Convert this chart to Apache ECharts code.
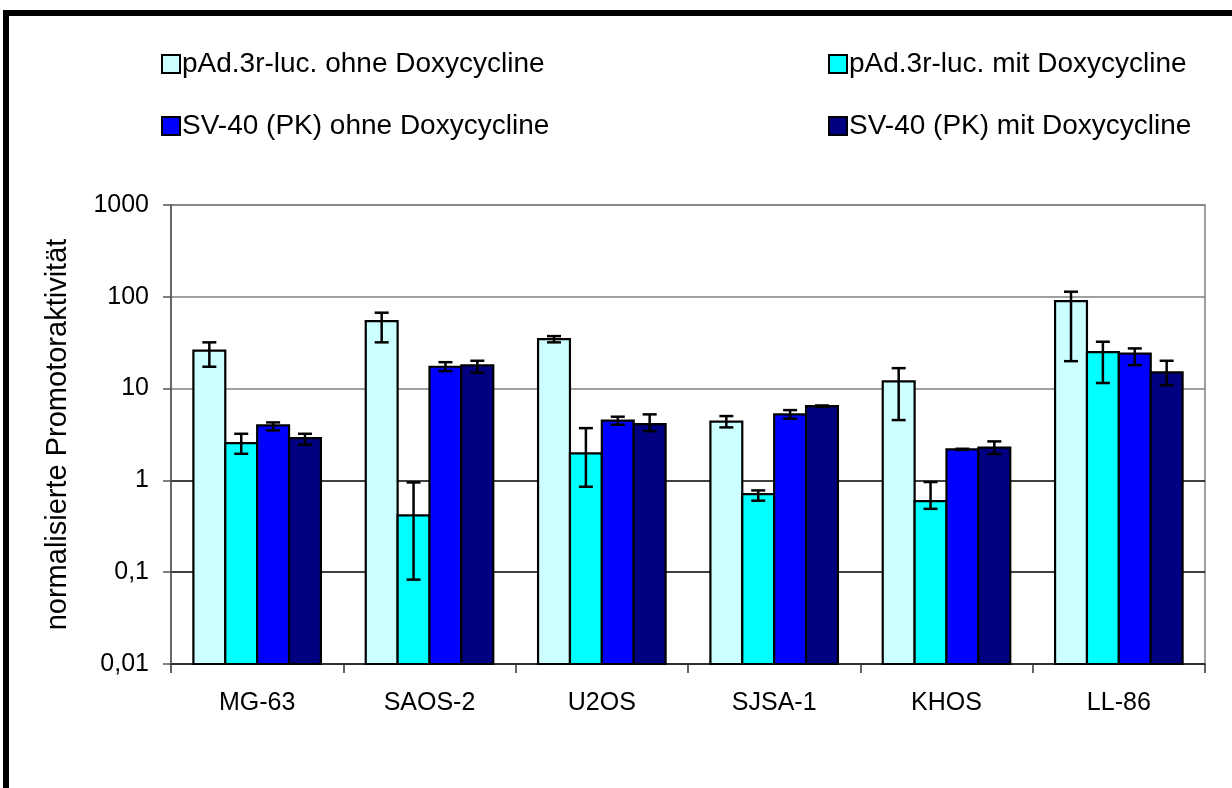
<!DOCTYPE html>
<html>
<head>
<meta charset="utf-8">
<script src="https://cdn.jsdelivr.net/npm/echarts@6/dist/echarts.min.js"></script>
<style>
html,body{margin:0;padding:0;background:#fff;}
#chart{width:1232px;height:788px;}
</style>
</head>
<body>
<div id="chart"></div>
<script>
const categories = ['MG-63', 'SAOS-2', 'U2OS', 'SJSA-1', 'KHOS', 'LL-86'];
const seriesNames = ['pAd.3r-luc. ohne Doxycycline', 'pAd.3r-luc. mit Doxycycline', 'SV-40 (PK) ohne Doxycycline', 'SV-40 (PK) mit Doxycycline'];
const seriesColors = ['#CCFFFF', '#00FFFF', '#0000FF', '#000080'];

const s1 = [25.9, 54.4, 34.6, 4.36, 12.0, 89.8];
const s1Low = [17.3, 31.9, 31.9, 3.78, 4.54, 19.9];
const s1High = [31.9, 67.1, 37.3, 5.02, 16.7, 113.6];

const s2 = [2.55, 0.416, 1.97, 0.71, 0.596, 25.0];
const s2Low = [1.95, 0.083, 0.853, 0.601, 0.49, 11.5];
const s2High = [3.22, 0.95, 3.71, 0.778, 0.96, 32.4];

const s3 = [3.97, 17.3, 4.47, 5.24, 2.18, 24.0];
const s3Low = [3.5, 15.5, 4.04, 4.7, 2.15, 18.0];
const s3High = [4.28, 19.4, 4.94, 5.83, 2.21, 27.4];

const s4 = [2.89, 17.9, 4.1, 6.45, 2.27, 15.0];
const s4Low = [2.45, 14.9, 3.44, 6.35, 1.94, 10.9];
const s4High = [3.22, 20.1, 5.24, 6.55, 2.66, 20.1];

const yTicks = [0.01, 0.1, 1, 10, 100, 1000];

const values = [s1, s2, s3, s4];
const lows = [s1Low, s2Low, s3Low, s4Low];
const highs = [s1High, s2High, s3High, s4High];

const FONT = 'Arial, "Liberation Sans", sans-serif';
const CAT_GAP = 0.26;

const chart = echarts.init(document.getElementById('chart'), null, {renderer: 'canvas'});

const series = values.map((vals, i) => ({
  name: seriesNames[i],
  type: 'custom',
  data: categories.map((c, k) => [k, vals[k], lows[i][k], highs[i][k]]),
  encode: {x: 0, y: [1, 2, 3]},
  itemStyle: {color: seriesColors[i], borderColor: '#000', borderWidth: 2},
  z: 3,
  renderItem: function (params, api) {
    const k = api.value(0);
    const top = api.coord([k, api.value(1)]);
    const base = api.coord([k, yTicks[0]]);
    const lo = api.coord([k, api.value(2)]);
    const hi = api.coord([k, api.value(3)]);
    const band = params.coordSys.width / categories.length;
    const barW = band * (1 - CAT_GAP) / 4;
    const cx = top[0] + (i - 1.5) * barW;
    const cap = 7;
    const st = {stroke: '#000', lineWidth: 2.5};
    return {
      type: 'group',
      children: [
        {type: 'rect', shape: {x: cx - barW / 2, y: top[1], width: barW, height: base[1] - top[1]},
         style: {fill: seriesColors[i], stroke: '#000', lineWidth: 2.2}},
        {type: 'line', shape: {x1: cx, y1: lo[1], x2: cx, y2: hi[1]}, style: st},
        {type: 'line', shape: {x1: cx - cap, y1: lo[1], x2: cx + cap, y2: lo[1]}, style: st},
        {type: 'line', shape: {x1: cx - cap, y1: hi[1], x2: cx + cap, y2: hi[1]}, style: st}
      ]
    };
  }
}));

function legendItem(idx, left, top) {
  return {
    show: true,
    data: [{name: seriesNames[idx], itemStyle: {color: seriesColors[idx]}}],
    left: left,
    top: top,
    itemWidth: 18,
    itemHeight: 18,
    itemGap: 6,
    icon: 'rect',
    itemStyle: {borderColor: '#000', borderWidth: 2},
    textStyle: {fontFamily: FONT, fontSize: 28, color: '#000', padding: [0, 0, 0, -3]},
    selectedMode: false
  };
}

const option = {
  backgroundColor: '#fff',
  animation: false,
  legend: [
    legendItem(0, 156, 45),
    legendItem(1, 823, 45),
    legendItem(2, 156, 107),
    legendItem(3, 823, 107)
  ],
  grid: {
    left: 171, right: 27, top: 205, bottom: 124,
    show: true, borderColor: '#808080', borderWidth: 1.5, backgroundColor: 'transparent'
  },
  xAxis: {
    type: 'category',
    data: categories,
    axisLine: {lineStyle: {color: '#333', width: 1.5}},
    axisTick: {show: true, interval: 0, length: 9, lineStyle: {color: '#333', width: 1.5}},
    axisLabel: {fontFamily: FONT, fontSize: 25, color: '#000', margin: 27},
    splitLine: {show: false}
  },
  yAxis: {
    type: 'log',
    logBase: 10,
    min: yTicks[0],
    max: yTicks[yTicks.length - 1],
    name: 'normalisierte Promotoraktivität',
    nameLocation: 'middle',
    nameRotate: 90,
    nameGap: 99,
    nameTextStyle: {fontFamily: FONT, fontSize: 29, color: '#000'},
    axisLine: {show: true, lineStyle: {color: '#555', width: 1.5}},
    axisTick: {show: true, length: 8, lineStyle: {color: '#555', width: 1.5}},
    axisLabel: {
      fontFamily: FONT, fontSize: 25, color: '#000', margin: 22,
      formatter: function (v) { return String(Number(v.toPrecision(6))).replace('.', ','); }
    },
    splitLine: {show: true, lineStyle: {color: ['#000', '#000', '#000', '#808080', '#808080', '#808080'], width: 1.5}}
  },
  graphic: [{
    type: 'rect',
    shape: {x: 6, y: 13, width: 1400, height: 1000},
    style: {fill: null, stroke: '#000', lineWidth: 6},
    silent: true,
    z: 100
  }],
  series: series
};

chart.setOption(option);
</script>
</body>
</html>
